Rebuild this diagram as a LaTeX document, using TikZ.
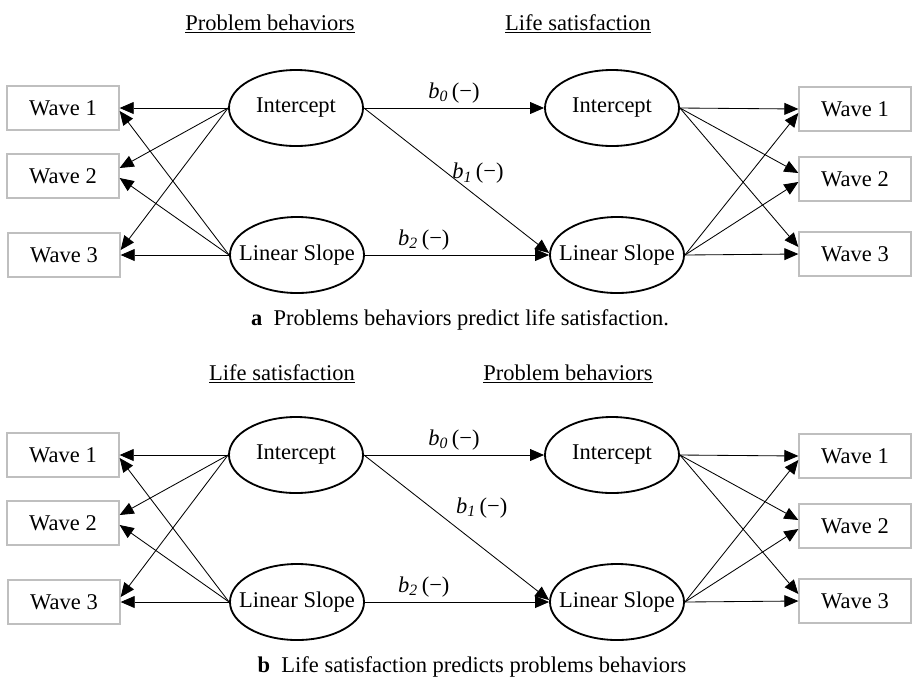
\documentclass[tikz,border=0pt]{standalone}
\usepackage{fontspec}
\setmainfont{Liberation Serif}
\usepackage{tikz}
\usetikzlibrary{arrows.meta,shapes.geometric}
\definecolor{WaveFrame}{HTML}{BFBFBF}
\newcommand{\bcoef}[1]{\textit{b}\textsubscript{\textit{#1}}\,(−)}
\newcommand{\fitin}[1]{\makebox[0pt]{#1}}
\tikzset{
  wave/.style={draw=WaveFrame,line width=0.9pt,minimum width=2.8cm,
    minimum height=1.1cm,inner sep=0pt},
  latent/.style={draw,ellipse,line width=1.3pt,minimum width=3.35cm,
    minimum height=1.9cm,inner sep=0pt},
  load/.style={-{Triangle[length=10pt,width=8.5pt]},line width=0.6pt},
}

\begin{document}
\begin{tikzpicture}[x=0.025cm,y=-0.025cm,font=\fontsize{16}{19}\selectfont]
  \useasboundingbox (0,0) rectangle (912,679);

  % --- a: problem behaviors predict life satisfaction ---
  \node (aTitleL) at (270,24) {\underline{Problem behaviors}};
  \node (aTitleR) at (578,24) {\underline{Life satisfaction}};
  \node[wave] (aW1) at (63,108) {Wave 1};
  \node[wave] (aW2) at (63,176) {Wave 2};
  \node[wave] (aW3) at (64,255) {Wave 3};
  \node[latent] (aInt)   at (296,108) {\fitin{Intercept}};
  \node[latent] (aSlope) at (297,255) {\fitin{Linear Slope}};
  \node[latent] (aInt2)   at (612,108) {\fitin{Intercept}};
  \node[latent] (aSlope2) at (617,255) {\fitin{Linear Slope}};
  \node[wave] (aV1) at (855,109) {Wave 1};
  \node[wave] (aV2) at (855,179) {Wave 2};
  \node[wave] (aV3) at (855,254) {Wave 3};
  % loadings
  \draw[load] (aInt.west) -- (aW1.east);
  \draw[load] (aInt.west) -- ([yshift=0.2cm]aW2.east);
  \draw[load] (aInt.west) -- ([yshift=0.125cm]aW3.east);
  \draw[load] (aSlope.west) -- ([yshift=-0.075cm]aW1.east);
  \draw[load] (aSlope.west) -- ([yshift=-0.05cm]aW2.east);
  \draw[load] (aSlope.west) -- (aW3.east);
  \draw[load] (aInt2.east) -- (aV1.west);
  \draw[load] (aInt2.east) -- ([yshift=0.15cm]aV2.west);
  \draw[load] (aInt2.east) -- ([yshift=0.175cm]aV3.west);
  \draw[load] (aSlope2.east) -- ([yshift=-0.1cm]aV1.west);
  \draw[load] (aSlope2.east) -- ([yshift=-0.075cm]aV2.west);
  \draw[load] (aSlope2.east) -- (aV3.west);
  % paths
  \draw[load] (aInt.east) -- node[above] {\bcoef{0}} (aInt2.west);
  \draw[load] (aInt.east) -- node[pos=0.45,anchor=west] {\bcoef{1}}
    ([yshift=0.05cm]aSlope2.west);
  \draw[load] (aSlope.east) -- node[pos=0.32,above] {\bcoef{2}} (aSlope2.west);
  \node (aCap) at (460,320) {\textbf{a}\ \ Problems behaviors predict life satisfaction.};

  % --- b: life satisfaction predicts problem behaviors ---
  \node (bTitleL) at (282,374) {\underline{Life satisfaction}};
  \node (bTitleR) at (568,374) {\underline{Problem behaviors}};
  \node[wave] (bW1) at (63,455) {Wave 1};
  \node[wave] (bW2) at (63,523) {Wave 2};
  \node[wave] (bW3) at (64,602) {Wave 3};
  \node[latent] (bInt)   at (296,455) {\fitin{Intercept}};
  \node[latent] (bSlope) at (297,602) {\fitin{Linear Slope}};
  \node[latent] (bInt2)   at (612,455) {\fitin{Intercept}};
  \node[latent] (bSlope2) at (617,602) {\fitin{Linear Slope}};
  \node[wave] (bV1) at (855,456) {Wave 1};
  \node[wave] (bV2) at (855,526) {Wave 2};
  \node[wave] (bV3) at (855,601) {Wave 3};
  % loadings
  \draw[load] (bInt.west) -- (bW1.east);
  \draw[load] (bInt.west) -- ([yshift=0.2cm]bW2.east);
  \draw[load] (bInt.west) -- ([yshift=0.125cm]bW3.east);
  \draw[load] (bSlope.west) -- ([yshift=-0.075cm]bW1.east);
  \draw[load] (bSlope.west) -- ([yshift=-0.05cm]bW2.east);
  \draw[load] (bSlope.west) -- (bW3.east);
  \draw[load] (bInt2.east) -- (bV1.west);
  \draw[load] (bInt2.east) -- ([yshift=0.15cm]bV2.west);
  \draw[load] (bInt2.east) -- ([yshift=0.175cm]bV3.west);
  \draw[load] (bSlope2.east) -- ([yshift=-0.1cm]bV1.west);
  \draw[load] (bSlope2.east) -- ([yshift=-0.075cm]bV2.west);
  \draw[load] (bSlope2.east) -- (bV3.west);
  % paths
  \draw[load] (bInt.east) -- node[above] {\bcoef{0}} (bInt2.west);
  \draw[load] (bInt.east) -- node[pos=0.47,anchor=south west] {\bcoef{1}}
    ([yshift=0.05cm]bSlope2.west);
  \draw[load] (bSlope.east) -- node[pos=0.32,above] {\bcoef{2}} (bSlope2.west);
  \node (bCap) at (472,667) {\textbf{b}\ \ Life satisfaction predicts problems behaviors};
\end{tikzpicture}
\end{document}
